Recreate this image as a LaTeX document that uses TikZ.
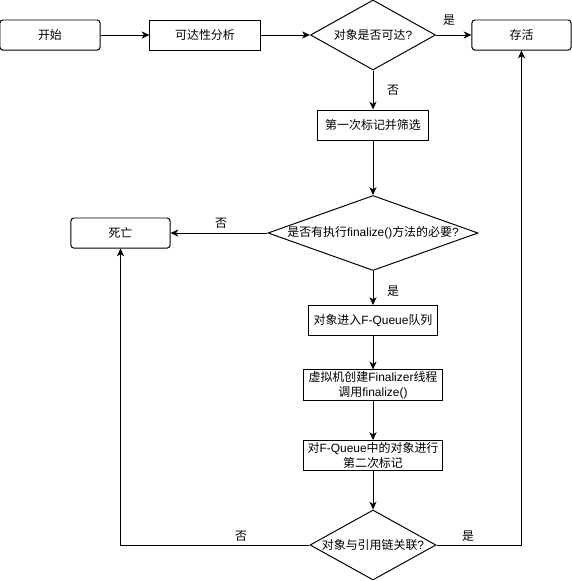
\documentclass[tikz,border=0pt]{standalone}
\usepackage{fontspec}
\setmainfont{Noto Sans CJK SC}
\newfontfamily\lat{Liberation Sans}
\usetikzlibrary{shapes.geometric,arrows.meta}
\tikzset{
  box/.style={draw,line width=0.7pt,minimum height=0.75cm,inner sep=1pt,align=center},
  rbox/.style={box,rounded corners=2pt},
  cond/.style={draw,line width=0.7pt,diamond,inner sep=0pt},
  flow/.style={line width=0.7pt,-{Stealth[length=5.5pt,width=5pt,inset=1.5pt]}},
  tag/.style={inner sep=0pt}
}
\begin{document}
\begin{tikzpicture}[x=0.025cm,y=-0.025cm,font=\fontsize{8.5}{10.5}\selectfont]
\useasboundingbox (0,0) rectangle (572,581);
\node[rbox,minimum width=2.5cm] (start) at (50,35) {开始};
\node[box,minimum width=2.75cm] (analyze) at (205,35) {可达性分析};
\node[cond,minimum width=3.125cm,minimum height=1.75cm] (reach) at (373,35) {\makebox[0pt]{对象是否可达{\lat ?}}};
\node[rbox,minimum width=2.475cm] (alive) at (521.5,35) {存活};
\node[box,minimum width=2.775cm] (mark1) at (373,125) {第一次标记并筛选};
\node[cond,minimum width=5.25cm,minimum height=1.875cm] (need) at (373,233) {\makebox[0pt]{是否有执行{\lat finalize()}方法的必要{\lat ?}}};
\node[rbox,minimum width=2.475cm] (dead) at (120.5,233) {死亡};
\node[box,minimum width=3.2cm] (enqueue) at (373,320.5) {对象进入{\lat F-Queue}队列};
\node[box,minimum width=3.45cm] (finalizer) at (373,385) {虚拟机创建{\lat Finalizer}线程\\调用{\lat finalize()}};
\node[box,minimum width=3.45cm] (mark2) at (373,455.5) {对{\lat F-Queue}中的对象进行\\第二次标记};
\node[cond,minimum width=3.15cm,minimum height=1.75cm] (linked) at (373,545) {\makebox[0pt]{对象与引用链关联{\lat ?}}};
\draw[flow] (start) -- (analyze);
\draw[flow] (analyze) -- (reach);
\draw[flow] (reach) -- (alive);
\node[tag] (yes1) at (449,20) {是};
\draw[flow] (reach) -- (mark1);
\node[tag] (no1) at (393,90) {否};
\draw[flow] (mark1) -- (need);
\draw[flow] (need) -- (dead);
\node[tag] (no2) at (221,223) {否};
\draw[flow] (need) -- (enqueue);
\node[tag] (yes2) at (393,291) {是};
\draw[flow] (enqueue) -- (finalizer);
\draw[flow] (finalizer) -- (mark2);
\draw[flow] (mark2) -- (linked);
\draw[flow] (linked.west) -| (dead.south);
\node[tag] (no3) at (241,536) {否};
\draw[flow] (linked.east) -| (alive.south);
\node[tag] (yes3) at (468,536) {是};
\end{tikzpicture}
\end{document}
